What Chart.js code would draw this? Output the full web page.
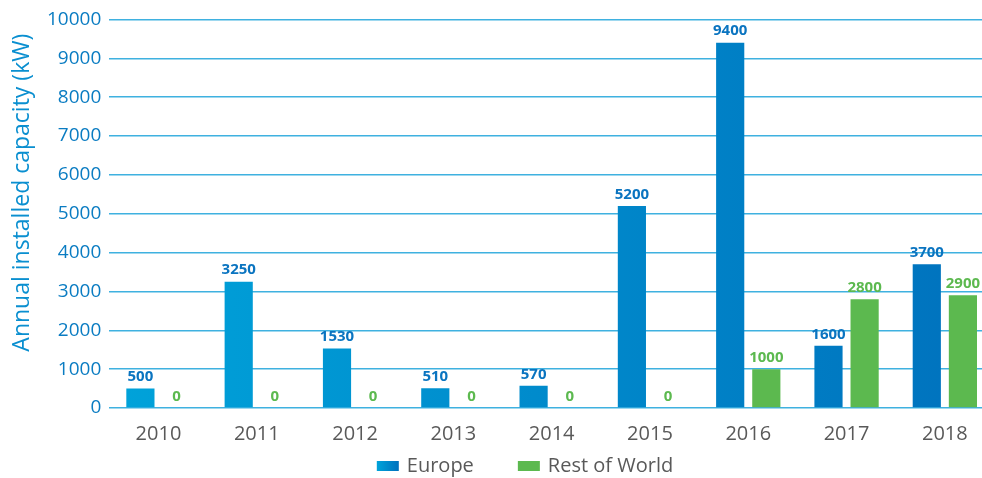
<!DOCTYPE html>
<html>
<head>
<meta charset="utf-8">
<script src="https://cdn.jsdelivr.net/npm/chart.js@4"></script>
<style>
  body { margin: 0; background: #fff; overflow: hidden; }
  #wrap { width: 982px; height: 478px; overflow: hidden; }
</style>
</head>
<body>
<div id="wrap"><canvas id="capacityChart" width="994" height="478"></canvas></div>
<script>
const years = ['2010', '2011', '2012', '2013', '2014', '2015', '2016', '2017', '2018'];
const europe = [500, 3250, 1530, 510, 570, 5200, 9400, 1600, 3700];
const restOfWorld = [0, 0, 0, 0, 0, 0, 1000, 2800, 2900];
const seriesNames = ['Europe', 'Rest of World'];
const axisTitle = 'Annual installed capacity (kW)';

const fontFamily = "'Open Sans', 'Noto Sans', sans-serif";
const green = '#5cb94f';

// horizontal gradient across the plot, like the original
function europeGradient(chart, x0, x1) {
  const g = chart.ctx.createLinearGradient(x0, 0, x1, 0);
  g.addColorStop(0, '#00a3da');
  g.addColorStop(1, '#0071bd');
  return g;
}

function europeFill(ctx) {
  const area = ctx.chart.chartArea;
  if (!area) return '#0090d0';
  return europeGradient(ctx.chart, area.left, area.right);
}

// value labels above each bar
const valueLabels = {
  id: 'valueLabels',
  afterDatasetsDraw(chart) {
    const c = chart.ctx;
    c.save();
    c.font = 'bold 15px ' + fontFamily;
    c.textAlign = 'center';
    c.textBaseline = 'bottom';
    chart.data.datasets.forEach((ds, i) => {
      const meta = chart.getDatasetMeta(i);
      c.fillStyle = i === 0 ? '#0a74c0' : green;
      meta.data.forEach((bar, j) => {
        c.fillText(ds.data[j], bar.x, bar.y - 4);
      });
    });
    c.restore();
  }
};

// y title and legend drawn by hand so they sit where the original has them
const decorations = {
  id: 'decorations',
  afterDraw(chart) {
    const c = chart.ctx;
    const area = chart.chartArea;
    c.save();
    c.font = '23px ' + fontFamily;
    c.fillStyle = '#0a8fd0';
    c.textAlign = 'center';
    c.textBaseline = 'middle';
    c.translate(22, (area.top + area.bottom) / 2 - 21);
    c.rotate(-Math.PI / 2);
    c.fillText(axisTitle, 0, 0);
    c.restore();

    c.save();
    c.font = '20px ' + fontFamily;
    c.textBaseline = 'middle';
    const boxW = 22, boxH = 10, textGap = 8, itemGap = 44;
    const widths = seriesNames.map(n => boxW + textGap + c.measureText(n).width);
    const total = widths[0] + itemGap + widths[1];
    let x = chart.width / 2 + 28 - total / 2;
    const y = 466;
    seriesNames.forEach((name, i) => {
      c.fillStyle = i === 0 ? europeGradient(chart, x, x + boxW) : green;
      c.fillRect(x, y - boxH / 2, boxW, boxH);
      c.fillStyle = '#595959';
      c.fillText(name, x + boxW + textGap, y);
      x += widths[i] + itemGap;
    });
    c.restore();
  }
};

const capacityConfig = {
  type: 'bar',
  data: {
    labels: years,
    datasets: [
      {
        label: seriesNames[0],
        data: europe,
        backgroundColor: europeFill,
        categoryPercentage: 0.735,
        barPercentage: 0.78
      },
      {
        label: seriesNames[1],
        data: restOfWorld,
        backgroundColor: green,
        categoryPercentage: 0.735,
        barPercentage: 0.78
      }
    ]
  },
  options: {
    responsive: false,
    animation: false,
    layout: { padding: { top: 6, right: 0, left: 39, bottom: 18 } },
    plugins: {
      legend: { display: false },
      tooltip: { enabled: false }
    },
    scales: {
      x: {
        grid: { display: false, drawTicks: false },
        border: { display: false },
        ticks: {
          color: '#595959',
          font: { family: fontFamily, size: 20 },
          padding: 14
        }
      },
      y: {
        min: 0,
        max: 10000,
        ticks: {
          stepSize: 1000,
          color: '#0a7cc2',
          font: { family: fontFamily, size: 19 },
          padding: 8,
          callback: (v) => String(v)
        },
        grid: { color: '#3fb1e0', lineWidth: 1.5, drawTicks: false },
        border: { display: false }
      }
    }
  },
  plugins: [valueLabels, decorations]
};

const capacityChart = new Chart(document.getElementById('capacityChart'), capacityConfig);
</script>
</body>
</html>
